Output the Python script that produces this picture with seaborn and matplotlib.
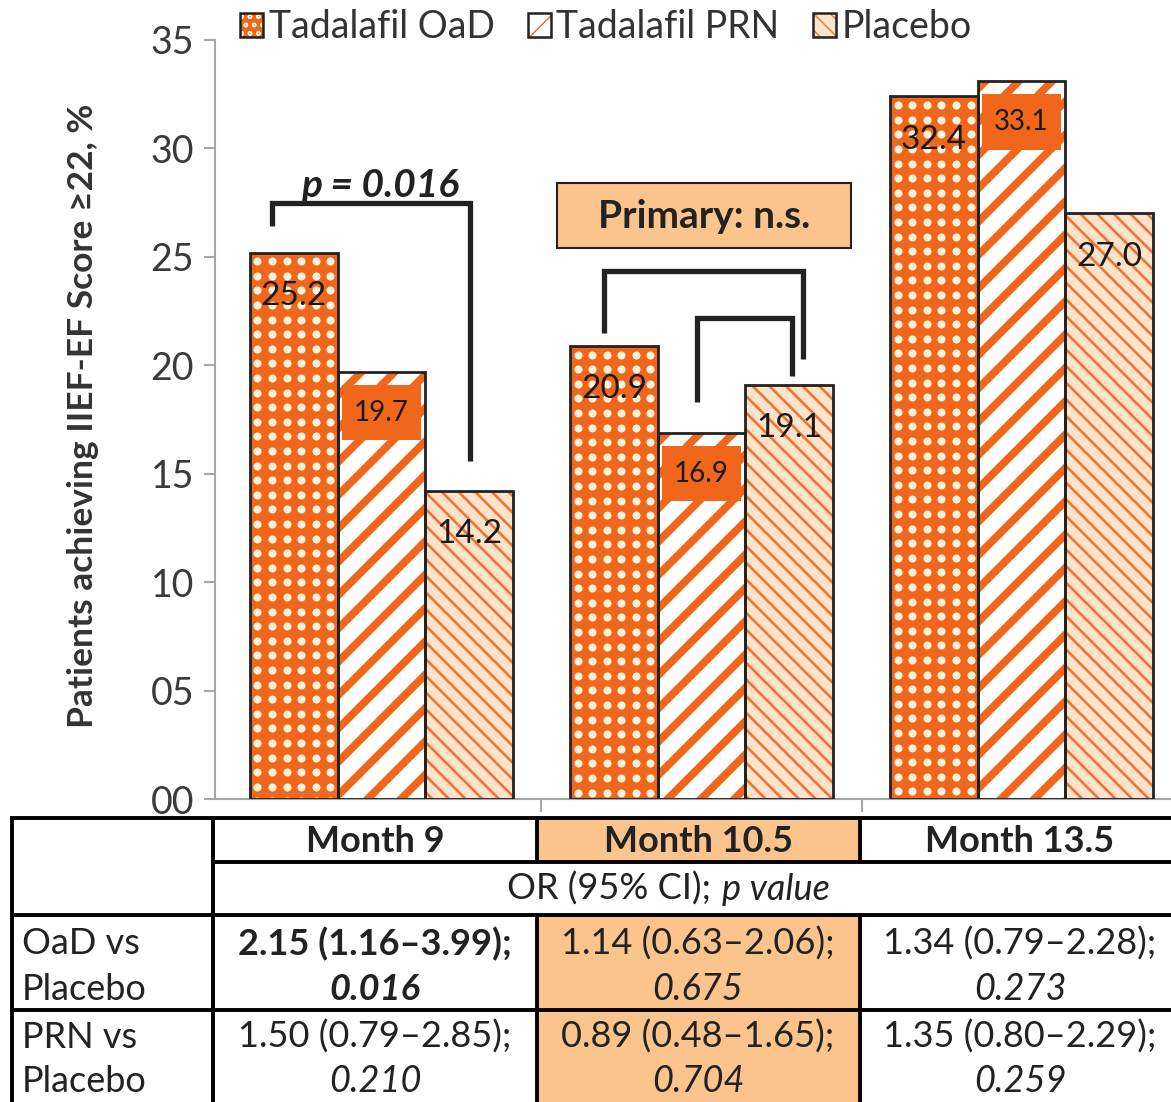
import numpy as np
import pandas as pd
import matplotlib
matplotlib.use("Agg")
import matplotlib.pyplot as plt
from matplotlib.patches import Rectangle, Patch
from matplotlib.legend_handler import HandlerTuple
import seaborn as sns

# ---- data -------------------------------------------------------------
months = ["Month 9", "Month 10.5", "Month 13.5"]
groups = ["Tadalafil OaD", "Tadalafil PRN", "Placebo"]
oad_pct = [25.2, 20.9, 32.4]
prn_pct = [19.7, 16.9, 33.1]
placebo_pct = [14.2, 19.1, 27.0]

y_ticks = [0, 5, 10, 15, 20, 25, 30, 35]
y_tick_labels = ["00", "05", "10", "15", "20", "25", "30", "35"]

row_labels = [("OaD vs", "Placebo"), ("PRN vs", "Placebo")]
oad_or = ["2.15 (1.16–3.99);", "1.14 (0.63–2.06);", "1.34 (0.79–2.28);"]
oad_p = ["0.016", "0.675", "0.273"]
prn_or = ["1.50 (0.79–2.85);", "0.89 (0.48–1.65);", "1.35 (0.80–2.29);"]
prn_p = ["0.210", "0.704", "0.259"]

# ---- style -------------------------------------------------------------
sns.set_theme(style="white")
plt.rcParams["font.family"] = ["Lato", "DejaVu Sans"]

ORANGE = "#F0661A"
DOT = "#FFF3DF"
PLACEBO_BG = "#FDE3CA"
PLACEBO_LINE = "#EE7633"
PEACH = "#FAC48C"
INK = "#222222"

# face, hatch colour, hatch, hatch linewidth
styles = [
    (ORANGE, ORANGE, "", 0.0),
    ("white", ORANGE, "/", 5.6),
    (PLACEBO_BG, PLACEBO_LINE, "\\\\", 1.9),
]


def set_hatch_lw(p, lw):
    if hasattr(p, "set_hatch_linewidth"):
        p.set_hatch_linewidth(lw)
    else:
        p._hatch_linewidth = lw


W, H = 1171, 1102
fig = plt.figure(figsize=(W / 100, H / 100), dpi=100)

ax = fig.add_axes([215 / W, 1 - 799 / H, (W - 215) / W, (799 - 40) / H])

df = pd.DataFrame({
    "month": months * 3,
    "group": np.repeat(groups, len(months)),
    "pct": oad_pct + prn_pct + placebo_pct,
})

sns.barplot(data=df, x="month", y="pct", hue="group", order=months,
            hue_order=groups, width=0.82, palette=[s[0] for s in styles],
            saturation=1, errorbar=None, legend=False, ax=ax)

ax.set_xlim(-0.52, 2.467)
ax.set_ylim(0, 35)

# pixel size of one data unit, used for the dot texture spacing
p0 = ax.transData.transform((0, 0))
p1 = ax.transData.transform((1, 1))
px_x, px_y = p1[0] - p0[0], p1[1] - p0[1]

values = [oad_pct, prn_pct, placebo_pct]
for gi, (container, (face, hcol, hatch, hlw)) in enumerate(zip(ax.containers, styles)):
    for bar, v in zip(container, values[gi]):
        bar.set_facecolor(face)
        bar.set_edgecolor(hcol)
        bar.set_hatch(hatch or None)
        bar.set_linewidth(0)
        if hatch:
            set_hatch_lw(bar, hlw)
        x0, w, h = bar.get_x(), bar.get_width(), bar.get_height()
        if gi == 0:
            # white polka-dot texture on the OaD bars
            step = 14.6
            ncol = int(round(w * px_x / step))
            xs = x0 + (np.arange(ncol) + 0.5) * (w / ncol)
            ys = h - (np.arange(int(h * px_y / step) + 1) + 0.6) * (step / px_y)
            gx, gy = np.meshgrid(xs, ys)
            sc = ax.scatter(gx.ravel(), gy.ravel(), s=34, color=DOT,
                            linewidths=0, zorder=2)
            sc.set_clip_path(bar)
        ax.add_patch(Rectangle((x0, 0), w, h, fill=False,
                               ec=INK, lw=2.0, zorder=3))
        cx = x0 + w / 2
        if gi == 1:
            inset = 0.012
            ax.add_patch(Rectangle((x0 + inset, v - 3.15), w - 2 * inset, 2.55,
                                   fc=ORANGE, ec="none", zorder=4))
            ax.text(cx, v - 1.9, f"{v:.1f}", ha="center", va="center",
                    fontsize=20, color="#1a1a1a", zorder=5)
        else:
            ax.text(cx, v - 2.0, f"{v:.1f}", ha="center", va="center",
                    fontsize=24, color="#1a1a1a", zorder=5)

# axes styling
for side in ("top", "right"):
    ax.spines[side].set_visible(False)
for side in ("left", "bottom"):
    ax.spines[side].set_color("#A6A6A6")
    ax.spines[side].set_linewidth(1.5)
ax.set_yticks(y_ticks, labels=y_tick_labels)
ax.set_xticks([0.5, 1.5], labels=["", ""])
ax.tick_params(axis="y", direction="out", length=8, width=1.5, color="#A6A6A6",
               labelsize=27, labelcolor="#3a3a3a", pad=7, left=True)
ax.tick_params(axis="x", direction="out", length=9, width=1.5, color="#A6A6A6",
               bottom=True)
ax.set_xlabel("")
ax.set_ylabel("Patients achieving IIEF-EF Score ≥22, %", fontsize=25.5,
              fontweight="bold", color="#333333")
ax.yaxis.set_label_coords(-0.121, 0.505)

# comparison brackets
bracket_kw = dict(color=INK, lw=3.8, solid_joinstyle="miter",
                  solid_capstyle="butt", clip_on=False, zorder=6)
ax.plot([-0.342, -0.342, 0.277, 0.277], [26.4, 27.48, 27.48, 15.6], **bracket_kw)
ax.plot([0.695, 0.695, 1.317, 1.317], [21.5, 24.35, 24.35, 20.3], **bracket_kw)
ax.plot([0.986, 0.986, 1.283, 1.283], [18.3, 22.18, 22.18, 19.5], **bracket_kw)

ax.text(-0.005, 27.5, "p = 0.016", ha="center", va="bottom", fontsize=28,
        fontweight="bold", fontstyle="italic", color=INK, zorder=7)

ax.add_patch(Rectangle((0.548, 25.4), 0.919, 3.0, fc=PEACH, ec=INK, lw=1.5,
                       zorder=6, clip_on=False))
ax.text(1.0075, 26.85, "Primary: n.s.", ha="center", va="center", fontsize=28,
        fontweight="bold", color=INK, zorder=7)

# legend
handles = []
for face, hcol, hatch, hlw in styles:
    if hatch:
        hp = Patch(facecolor=face, edgecolor=hcol, hatch=hatch, linewidth=0)
        set_hatch_lw(hp, min(hlw, 2.5))
    else:
        hp = Patch(facecolor=face, edgecolor=DOT, hatch="oo", linewidth=0)
        set_hatch_lw(hp, 2.0)
    op = Patch(fill=False, edgecolor=INK, linewidth=1.8)
    handles.append((hp, op))
fig.legend(handles, groups, loc="center", bbox_to_anchor=(606 / W, 1 - 27 / H),
           ncol=3, frameon=False, fontsize=27, handlelength=0.6,
           handleheight=0.6, handletextpad=0.15, columnspacing=0.9,
           handler_map={tuple: HandlerTuple(ndivide=1, pad=0)},
           labelcolor="#333333", borderpad=0.1)

# ---- table of odds ratios ----------------------------------------------
tax = fig.add_axes([0, 0, 1, 1], zorder=-1)
tax.set_xlim(0, W)
tax.set_ylim(H, 0)
tax.axis("off")

col_edges = [12, 213, 537, 860, W]
row_edges = [818, 862, 915, 1010, H]
col_centers = [375, 698, 1020]

# highlighted primary-endpoint column
tax.add_patch(Rectangle((col_edges[2], row_edges[0]), col_edges[3] - col_edges[2],
                        row_edges[1] - row_edges[0], fc=PEACH, ec="none"))
tax.add_patch(Rectangle((col_edges[2], row_edges[2]), col_edges[3] - col_edges[2],
                        H - row_edges[2], fc=PEACH, ec="none"))

lk = dict(color="black", lw=2.8, solid_capstyle="projecting")
tax.plot([12, W], [818, 818], **lk)
tax.plot([213, W], [862, 862], **lk)
tax.plot([12, W], [915, 915], **lk)
tax.plot([12, W], [1010, 1010], **lk)
tax.plot([12, 12], [818, H], **lk)
tax.plot([213, 213], [818, H], **lk)
for xv in (537, 860):
    tax.plot([xv, xv], [818, 862], **lk)
    tax.plot([xv, xv], [915, H], **lk)

tfs = 26
for cx, m in zip(col_centers, months):
    tax.text(cx, 841, m, ha="center", va="center", fontsize=tfs,
             fontweight="bold", color=INK)
tax.text(720, 889, "OR (95% CI); ", ha="right", va="center", fontsize=tfs,
         color=INK)
tax.text(722, 889, "p value", ha="left", va="center", fontsize=tfs,
         fontstyle="italic", color=INK)

row_y = [(944, 989), (1037, 1082)]
for (l1, l2), (y1, y2) in zip(row_labels, row_y):
    tax.text(22, y1, l1, ha="left", va="center", fontsize=tfs, color=INK)
    tax.text(22, y2, l2, ha="left", va="center", fontsize=tfs, color=INK)

for i, cx in enumerate(col_centers):
    wt = "bold" if i == 0 else "normal"
    tax.text(cx, row_y[0][0], oad_or[i], ha="center", va="center", fontsize=tfs,
             fontweight=wt, color=INK)
    tax.text(cx, row_y[0][1], oad_p[i], ha="center", va="center", fontsize=tfs,
             fontweight=wt, fontstyle="italic", color=INK)
    tax.text(cx, row_y[1][0], prn_or[i], ha="center", va="center", fontsize=tfs,
             color=INK)
    tax.text(cx, row_y[1][1], prn_p[i], ha="center", va="center", fontsize=tfs,
             fontstyle="italic", color=INK)

fig.savefig("out.png", dpi=100, facecolor="white")
